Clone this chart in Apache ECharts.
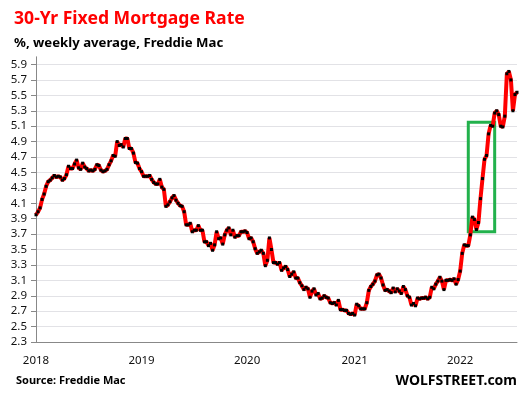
<!DOCTYPE html>
<html>
<head>
<meta charset="utf-8">
<script src="https://cdn.jsdelivr.net/npm/echarts@6/dist/echarts.min.js"></script>
<style>
html,body{margin:0;padding:0;background:#fff;}
#c{width:521px;height:395px;}
</style>
</head>
<body>
<div id="c"></div>
<script>
// Weekly dates (Freddie Mac PMMS release dates)
const weeks2018 = ['2018-01-04','2018-01-11','2018-01-18','2018-01-25','2018-02-01','2018-02-08','2018-02-15','2018-02-22','2018-03-01','2018-03-08','2018-03-15','2018-03-22','2018-03-29','2018-04-05','2018-04-12','2018-04-19','2018-04-26','2018-05-03','2018-05-10','2018-05-17','2018-05-24','2018-05-31','2018-06-07','2018-06-14','2018-06-21','2018-06-28','2018-07-05','2018-07-12','2018-07-19','2018-07-26','2018-08-02','2018-08-09','2018-08-16','2018-08-23','2018-08-30','2018-09-06','2018-09-13','2018-09-20','2018-09-27','2018-10-04','2018-10-11','2018-10-18','2018-10-25','2018-11-01','2018-11-08','2018-11-15','2018-11-21','2018-11-29','2018-12-06','2018-12-13','2018-12-20','2018-12-27'];
const weeks2019 = ['2019-01-03','2019-01-10','2019-01-17','2019-01-24','2019-01-31','2019-02-07','2019-02-14','2019-02-21','2019-02-28','2019-03-07','2019-03-14','2019-03-21','2019-03-28','2019-04-04','2019-04-11','2019-04-18','2019-04-25','2019-05-02','2019-05-09','2019-05-16','2019-05-23','2019-05-30','2019-06-06','2019-06-13','2019-06-20','2019-06-27','2019-07-03','2019-07-11','2019-07-18','2019-07-25','2019-08-01','2019-08-08','2019-08-15','2019-08-22','2019-08-29','2019-09-05','2019-09-12','2019-09-19','2019-09-26','2019-10-03','2019-10-10','2019-10-17','2019-10-24','2019-10-31','2019-11-07','2019-11-14','2019-11-21','2019-11-27','2019-12-05','2019-12-12','2019-12-19','2019-12-26'];
const weeks2020 = ['2020-01-02','2020-01-09','2020-01-16','2020-01-23','2020-01-30','2020-02-06','2020-02-13','2020-02-20','2020-02-27','2020-03-05','2020-03-12','2020-03-19','2020-03-26','2020-04-02','2020-04-09','2020-04-16','2020-04-23','2020-04-30','2020-05-07','2020-05-14','2020-05-21','2020-05-28','2020-06-04','2020-06-11','2020-06-18','2020-06-25','2020-07-02','2020-07-09','2020-07-16','2020-07-23','2020-07-30','2020-08-06','2020-08-13','2020-08-20','2020-08-27','2020-09-03','2020-09-10','2020-09-17','2020-09-24','2020-10-01','2020-10-08','2020-10-15','2020-10-22','2020-10-29','2020-11-05','2020-11-12','2020-11-19','2020-11-25','2020-12-03','2020-12-10','2020-12-17','2020-12-23','2020-12-30'];
const weeks2021 = ['2021-01-07','2021-01-14','2021-01-21','2021-01-28','2021-02-04','2021-02-11','2021-02-18','2021-02-25','2021-03-04','2021-03-11','2021-03-18','2021-03-25','2021-04-01','2021-04-08','2021-04-15','2021-04-22','2021-04-29','2021-05-06','2021-05-13','2021-05-20','2021-05-27','2021-06-03','2021-06-10','2021-06-17','2021-06-24','2021-07-01','2021-07-08','2021-07-15','2021-07-22','2021-07-29','2021-08-05','2021-08-12','2021-08-19','2021-08-26','2021-09-02','2021-09-09','2021-09-16','2021-09-23','2021-09-30','2021-10-07','2021-10-14','2021-10-21','2021-10-28','2021-11-04','2021-11-10','2021-11-18','2021-11-24','2021-12-02','2021-12-09','2021-12-16','2021-12-23','2021-12-30'];
const weeks2022 = ['2022-01-06','2022-01-13','2022-01-20','2022-01-27','2022-02-03','2022-02-10','2022-02-17','2022-02-24','2022-03-03','2022-03-10','2022-03-17','2022-03-24','2022-03-31','2022-04-07','2022-04-14','2022-04-21','2022-04-28','2022-05-05','2022-05-12','2022-05-19','2022-05-26','2022-06-02','2022-06-09','2022-06-16','2022-06-23','2022-06-30','2022-07-07','2022-07-14','2022-07-21'];

// 30-yr fixed mortgage rate, %
const rates2018 = [3.95,3.99,4.04,4.15,4.22,4.32,4.38,4.40,4.43,4.46,4.44,4.45,4.44,4.40,4.42,4.47,4.58,4.55,4.55,4.61,4.66,4.56,4.54,4.62,4.57,4.55,4.52,4.53,4.52,4.54,4.60,4.59,4.53,4.51,4.52,4.54,4.60,4.65,4.72,4.71,4.90,4.85,4.86,4.83,4.94,4.94,4.81,4.81,4.75,4.63,4.62,4.55];
const rates2019 = [4.51,4.45,4.45,4.45,4.46,4.41,4.37,4.35,4.35,4.41,4.31,4.28,4.06,4.08,4.12,4.17,4.20,4.14,4.10,4.07,4.06,3.99,3.82,3.82,3.84,3.73,3.75,3.75,3.81,3.75,3.75,3.60,3.60,3.55,3.58,3.49,3.56,3.73,3.64,3.65,3.57,3.69,3.75,3.78,3.69,3.75,3.66,3.68,3.68,3.73,3.73,3.74];
const rates2020 = [3.72,3.64,3.65,3.60,3.51,3.45,3.47,3.49,3.45,3.29,3.36,3.65,3.50,3.33,3.33,3.31,3.33,3.23,3.26,3.28,3.24,3.15,3.18,3.21,3.13,3.13,3.07,3.03,2.98,3.01,2.99,2.88,2.96,2.99,2.91,2.93,2.86,2.87,2.90,2.88,2.87,2.81,2.80,2.81,2.78,2.84,2.72,2.72,2.71,2.71,2.67,2.66,2.67];
const rates2021 = [2.65,2.79,2.77,2.73,2.73,2.73,2.81,2.97,3.02,3.05,3.09,3.17,3.18,3.13,3.04,2.97,2.98,2.96,2.94,3.00,2.95,2.99,2.96,2.93,3.02,2.98,2.90,2.88,2.78,2.80,2.77,2.87,2.86,2.87,2.87,2.88,2.86,2.88,3.01,2.99,3.05,3.09,3.14,3.09,2.98,3.10,3.10,3.11,3.10,3.12,3.05,3.11];
const rates2022 = [3.22,3.45,3.56,3.55,3.55,3.69,3.92,3.89,3.76,3.85,4.16,4.42,4.67,4.72,5.00,5.11,5.10,5.27,5.30,5.25,5.10,5.09,5.23,5.78,5.81,5.70,5.30,5.51,5.54];

// y-axis ticks
const yMin = 2.3, yMax = 6.0, yStep = 0.2;

// highlighted box (annotation)
const boxFrom = '2022-02-03', boxTo = '2022-05-05', boxLow = 3.73, boxHigh = 5.15;

const categories = [].concat(weeks2018, weeks2019, weeks2020, weeks2021, weeks2022);
const values = [].concat(rates2018, rates2019, rates2020, rates2021, rates2022);

const chart = echarts.init(document.getElementById('c'), null, {renderer: 'canvas'});
const FONT = 'Noto Sans';
chart.setOption({
  animation: false,
  backgroundColor: '#ffffff',
  title: [
    {text: '30-Yr Fixed Mortgage Rate', left: 9, top: 5,
     textStyle: {color: '#ff0000', fontFamily: FONT, fontWeight: 'bold', fontSize: 17.6}},
    {text: '%, weekly average, Freddie Mac', left: 9, top: 32,
     textStyle: {color: '#000', fontFamily: FONT, fontWeight: 'bold', fontSize: 13.2}},
    {text: 'Source: Freddie Mac', left: 11, top: 370,
     textStyle: {color: '#000', fontFamily: FONT, fontWeight: 'bold', fontSize: 11}},
    {text: 'WOLFSTREET.com', right: -1, top: 369,
     textStyle: {color: '#000', fontFamily: FONT, fontWeight: 'bold', fontSize: 14}}
  ],
  grid: {left: 36, right: 4, top: 56.8, bottom: 53, containLabel: false},
  xAxis: {
    type: 'category', data: categories, boundaryGap: false,
    axisLine: {lineStyle: {color: '#888888', width: 1}},
    axisTick: {show: false},
    axisLabel: {
      interval: function (i, v) { return i === 0 || v.slice(0, 4) !== categories[i - 1].slice(0, 4); },
      formatter: function (v) { return v.slice(0, 4); },
      margin: 13, color: '#111', fontSize: 11.5, fontFamily: FONT
    },
    splitLine: {show: false}
  },
  yAxis: {
    type: 'value', min: yMin, max: yMax, interval: yStep,
    axisLine: {show: true, lineStyle: {color: '#888888', width: 1}},
    axisTick: {show: true, length: 5, lineStyle: {color: '#888888'}},
    axisLabel: {
      showMaxLabel: false,
      formatter: function (v) { return v > 5.95 ? '' : v.toFixed(1); },
      margin: 9, color: '#111', fontSize: 11.5, fontFamily: FONT
    },
    splitLine: {show: true, showMaxLine: false, lineStyle: {color: '#e2e2e6', width: 1}}
  },
  series: [{
    type: 'line', data: values,
    symbol: 'rect', symbolSize: 3, showAllSymbol: true,
    lineStyle: {color: '#ff0000', width: 4},
    itemStyle: {color: '#000000', borderWidth: 0},
    markArea: {
      silent: true,
      itemStyle: {color: 'rgba(0,0,0,0)', borderColor: '#22b14c', borderWidth: 3},
      data: [[{xAxis: boxFrom, yAxis: boxLow}, {xAxis: boxTo, yAxis: boxHigh}]]
    }
  }]
});
</script>
</body>
</html>
